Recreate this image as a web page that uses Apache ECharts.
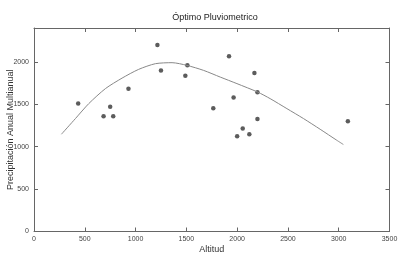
<!DOCTYPE html>
<html><head><meta charset="utf-8">
<script src="https://cdn.jsdelivr.net/npm/echarts@6/dist/echarts.min.js"></script>
<style>html,body{margin:0;padding:0;background:#fff}#c{width:402px;height:258px}</style>
</head><body><div id="c"></div>
<script>
const altitud = [435, 685, 750, 780, 930, 1215, 1250, 1490, 1510, 1765, 1920, 1965, 2000, 2055, 2120, 2170, 2200, 2200, 3090];
const precip  = [1510, 1360, 1470, 1360, 1685, 2200, 1900, 1838, 1962, 1453, 2068, 1579, 1124, 1214, 1147, 1868, 1641, 1327, 1300];
const curveX = [270, 408, 539, 703, 867, 1030, 1195, 1359, 1506, 1670, 1834, 1998, 2201, 2325, 2490, 2653, 2817, 2981, 3046];
const curveY = [1147, 1332, 1508, 1685, 1809, 1912, 1979, 1991, 1959, 1900, 1821, 1744, 1645, 1567, 1449, 1332, 1206, 1076, 1026];

const chart = echarts.init(document.getElementById('c'));
const axisCol = '#666';
const lblStyle = {fontSize: 7, color: '#444', fontFamily: 'Liberation Sans', formatter: v => String(v)};
chart.setOption({
  animation: false,
  title: {text: 'Óptimo Pluviometrico', left: 210, top: 8, textAlign: 'center',
    textStyle: {fontSize: 9, fontWeight: 'normal', color: '#222', fontFamily: 'Liberation Sans'}},
  grid: {left: 34, right: 12.5, top: 28, bottom: 26.5, containLabel: false, outerBoundsMode: 'none'},
  xAxis: [{
    type: 'value', min: 0, max: 3500, interval: 500, position: 'bottom',
    name: 'Altitud', nameLocation: 'middle', nameGap: 14, nameMoveOverlap: false,
    nameTextStyle: {fontSize: 9, color: '#333', fontFamily: 'Liberation Sans'},
    axisLine: {onZero: false, lineStyle: {color: axisCol, width: 1}},
    axisTick: {inside: true, length: 4, lineStyle: {color: axisCol}},
    axisLabel: Object.assign({margin: 4}, lblStyle),
    splitLine: {show: false}
  }, {
    type: 'value', min: 0, max: 3500, interval: 500, position: 'top',
    axisLine: {show: true, onZero: false, lineStyle: {color: axisCol, width: 1}},
    axisTick: {show: true, inside: true, length: 4, lineStyle: {color: axisCol}},
    axisLabel: {show: false}, splitLine: {show: false}
  }],
  yAxis: [{
    type: 'value', min: 0, max: 2400, interval: 500, position: 'left',
    name: 'Precipitación Anual Multianual', nameLocation: 'middle', nameGap: 19, nameMoveOverlap: false,
    nameTextStyle: {fontSize: 9, color: '#333', fontFamily: 'Liberation Sans'},
    axisLine: {show: true, onZero: false, lineStyle: {color: axisCol, width: 1}},
    axisTick: {show: true, inside: true, length: 4, lineStyle: {color: axisCol}},
    axisLabel: Object.assign({margin: 5, showMaxLabel: false}, lblStyle),
    splitLine: {show: false}
  }, {
    type: 'value', min: 0, max: 2400, interval: 500, position: 'right',
    axisLine: {show: true, onZero: false, lineStyle: {color: axisCol, width: 1}},
    axisTick: {show: true, inside: true, length: 4, lineStyle: {color: axisCol}},
    axisLabel: {show: false}, splitLine: {show: false}
  }],
  series: [{
    type: 'line', smooth: 0.25, showSymbol: false, symbol: 'none',
    data: curveX.map((x, i) => [x, curveY[i]]),
    lineStyle: {color: '#888', width: 1}
  }, {
    type: 'scatter', symbolSize: 4.5,
    data: altitud.map((x, i) => [x, precip[i]]),
    itemStyle: {color: '#333'}
  }]
});
</script></body></html>
